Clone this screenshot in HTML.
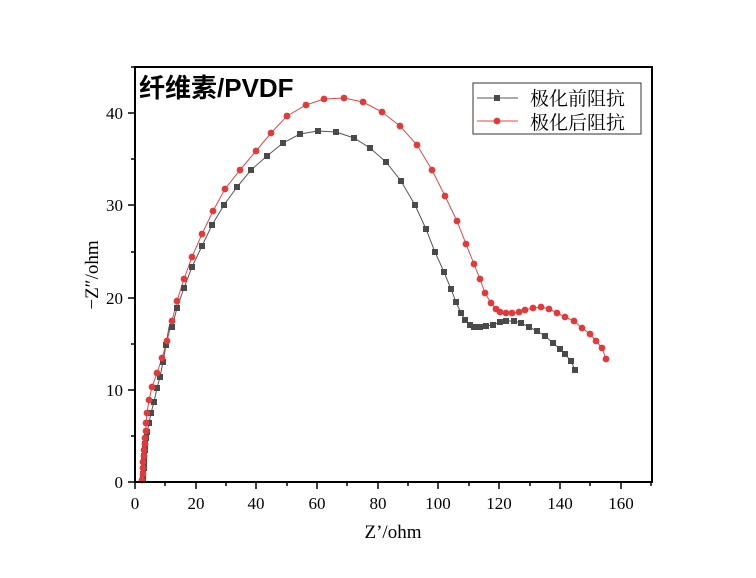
<!DOCTYPE html>
<html><head><meta charset="utf-8"><style>
html,body{margin:0;padding:0;background:#fff;}
svg{display:block;}
</style></head><body>
<svg width="756" height="578" viewBox="0 0 756 578" xmlns="http://www.w3.org/2000/svg">
<rect width="756" height="578" fill="#fff"/>
<defs>
<rect id="sq" x="-3" y="-3" width="6" height="6" fill="#4a4a4a"/>
<circle id="ci" r="3.4" fill="#e23a3a"/>
</defs>
<polyline fill="none" stroke="#555" stroke-width="1" points="143,482 143,476 144,470 144,464 144,458 145,452 145,446 146,440 147,434 148,428 149,423 151,413 154,402 157,388 160,377 163,362 166,345 169,327 172,327 177,308 184,288 192,267 202,246 212,225 224,205 237,187 251,170 267,156 283,143 300,134 318,131 336,132 354,138 370,148 386,162 401,181 415,205 426,229 435,252 444,272 451,289 456,302 461,313 465,320 470,325 474,327 480,327 486,326 493,325 500,322 506,321 514,321 521,323 529,327 537,331 545,336 553,343 560,349 565,354 571,361 575,370"/>
<polyline fill="none" stroke="#e04848" stroke-width="1" points="142,482 142,477 143,472 143,467 143,462 144,456 144,450 145,444 145,438 146,430 146,423 147,413 149,400 152,387 157,373 162,358 167,341 172,321 177,301 184,279 192,257 202,234 213,211 225,189 240,170 256,151 271,133 287,116 306,105 324,99 344,98 363,102 382,112 400,126 417,145 432,170 445,196 457,221 466,244 474,264 480,279 485,293 491,303 496,309 500,312 506,313 512,313 519,312 525,310 533,308 541,307 549,309 557,313 565,317 574,321 582,328 590,334 596,341 602,348 606,359"/>
<g>
<use href="#sq" x="143" y="480"/><use href="#sq" x="143" y="474"/><use href="#sq" x="144" y="468"/><use href="#sq" x="144" y="462"/><use href="#sq" x="144" y="456"/><use href="#sq" x="145" y="450"/><use href="#sq" x="145" y="444"/><use href="#sq" x="146" y="438"/><use href="#sq" x="147" y="432"/><use href="#sq" x="149" y="423"/><use href="#sq" x="151" y="413"/><use href="#sq" x="154" y="402"/><use href="#sq" x="157" y="388"/><use href="#sq" x="160" y="377"/><use href="#sq" x="163" y="362"/><use href="#sq" x="166" y="345"/><use href="#sq" x="172" y="327"/><use href="#sq" x="177" y="308"/><use href="#sq" x="184" y="288"/><use href="#sq" x="192" y="267"/><use href="#sq" x="202" y="246"/><use href="#sq" x="212" y="225"/><use href="#sq" x="224" y="205"/><use href="#sq" x="237" y="187"/><use href="#sq" x="251" y="170"/><use href="#sq" x="267" y="156"/><use href="#sq" x="283" y="143"/><use href="#sq" x="300" y="134"/><use href="#sq" x="318" y="131"/><use href="#sq" x="336" y="132"/><use href="#sq" x="354" y="138"/><use href="#sq" x="370" y="148"/><use href="#sq" x="386" y="162"/><use href="#sq" x="401" y="181"/><use href="#sq" x="415" y="205"/><use href="#sq" x="426" y="229"/><use href="#sq" x="435" y="252"/><use href="#sq" x="444" y="272"/><use href="#sq" x="451" y="289"/><use href="#sq" x="456" y="302"/><use href="#sq" x="461" y="313"/><use href="#sq" x="465" y="320"/><use href="#sq" x="470" y="325"/><use href="#sq" x="474" y="327"/><use href="#sq" x="480" y="327"/><use href="#sq" x="486" y="326"/><use href="#sq" x="493" y="325"/><use href="#sq" x="500" y="322"/><use href="#sq" x="506" y="321"/><use href="#sq" x="514" y="321"/><use href="#sq" x="521" y="323"/><use href="#sq" x="529" y="327"/><use href="#sq" x="537" y="331"/><use href="#sq" x="545" y="336"/><use href="#sq" x="553" y="343"/><use href="#sq" x="560" y="349"/><use href="#sq" x="565" y="354"/><use href="#sq" x="571" y="361"/><use href="#sq" x="575" y="370"/>
</g>
<g>
<use href="#ci" x="142" y="480"/><use href="#ci" x="143" y="474"/><use href="#ci" x="143" y="468"/><use href="#ci" x="143" y="462"/><use href="#ci" x="144" y="456"/><use href="#ci" x="144" y="450"/><use href="#ci" x="145" y="444"/><use href="#ci" x="145" y="438"/><use href="#ci" x="146" y="431"/><use href="#ci" x="146" y="423"/><use href="#ci" x="147" y="413"/><use href="#ci" x="149" y="400"/><use href="#ci" x="152" y="387"/><use href="#ci" x="157" y="373"/><use href="#ci" x="162" y="358"/><use href="#ci" x="167" y="341"/><use href="#ci" x="172" y="321"/><use href="#ci" x="177" y="301"/><use href="#ci" x="184" y="279"/><use href="#ci" x="192" y="257"/><use href="#ci" x="202" y="234"/><use href="#ci" x="213" y="211"/><use href="#ci" x="225" y="189"/><use href="#ci" x="240" y="170"/><use href="#ci" x="256" y="151"/><use href="#ci" x="271" y="133"/><use href="#ci" x="287" y="116"/><use href="#ci" x="306" y="105"/><use href="#ci" x="324" y="99"/><use href="#ci" x="344" y="98"/><use href="#ci" x="363" y="102"/><use href="#ci" x="382" y="112"/><use href="#ci" x="400" y="126"/><use href="#ci" x="417" y="145"/><use href="#ci" x="432" y="170"/><use href="#ci" x="445" y="196"/><use href="#ci" x="457" y="221"/><use href="#ci" x="466" y="244"/><use href="#ci" x="474" y="264"/><use href="#ci" x="480" y="279"/><use href="#ci" x="485" y="293"/><use href="#ci" x="491" y="303"/><use href="#ci" x="496" y="309"/><use href="#ci" x="500" y="312"/><use href="#ci" x="506" y="313"/><use href="#ci" x="512" y="313"/><use href="#ci" x="519" y="312"/><use href="#ci" x="525" y="310"/><use href="#ci" x="533" y="308"/><use href="#ci" x="541" y="307"/><use href="#ci" x="549" y="309"/><use href="#ci" x="557" y="313"/><use href="#ci" x="565" y="317"/><use href="#ci" x="574" y="321"/><use href="#ci" x="582" y="328"/><use href="#ci" x="590" y="334"/><use href="#ci" x="596" y="341"/><use href="#ci" x="602" y="348"/><use href="#ci" x="606" y="359"/>
</g>
<rect x="135" y="67" width="517" height="415" fill="none" stroke="#000" stroke-width="2"/>
<g stroke="#000" stroke-width="1.5">
<line x1="135" y1="482" x2="135" y2="489"/><line x1="196" y1="482" x2="196" y2="489"/><line x1="256" y1="482" x2="256" y2="489"/><line x1="317" y1="482" x2="317" y2="489"/><line x1="378" y1="482" x2="378" y2="489"/><line x1="438" y1="482" x2="438" y2="489"/><line x1="499" y1="482" x2="499" y2="489"/><line x1="560" y1="482" x2="560" y2="489"/><line x1="621" y1="482" x2="621" y2="489"/>
<line x1="165" y1="482" x2="165" y2="486"/><line x1="226" y1="482" x2="226" y2="486"/><line x1="287" y1="482" x2="287" y2="486"/><line x1="347" y1="482" x2="347" y2="486"/><line x1="408" y1="482" x2="408" y2="486"/><line x1="469" y1="482" x2="469" y2="486"/><line x1="530" y1="482" x2="530" y2="486"/><line x1="590" y1="482" x2="590" y2="486"/><line x1="651" y1="482" x2="651" y2="486"/>
<line x1="135" y1="482" x2="128" y2="482"/><line x1="135" y1="390" x2="128" y2="390"/><line x1="135" y1="298" x2="128" y2="298"/><line x1="135" y1="205" x2="128" y2="205"/><line x1="135" y1="113" x2="128" y2="113"/>
<line x1="135" y1="436" x2="131" y2="436"/><line x1="135" y1="344" x2="131" y2="344"/><line x1="135" y1="252" x2="131" y2="252"/><line x1="135" y1="159" x2="131" y2="159"/><line x1="135" y1="67" x2="131" y2="67"/>
</g>
<g font-family="Liberation Serif, serif" font-size="17" fill="#000" text-anchor="middle">
<text x="135" y="509">0</text><text x="196" y="509">20</text><text x="256" y="509">40</text><text x="317" y="509">60</text><text x="378" y="509">80</text><text x="438" y="509">100</text><text x="499" y="509">120</text><text x="560" y="509">140</text><text x="621" y="509">160</text>
</g>
<g font-family="Liberation Serif, serif" font-size="17" fill="#000" text-anchor="end">
<text x="123" y="488">0</text><text x="123" y="396">10</text><text x="123" y="304">20</text><text x="123" y="211">30</text><text x="123" y="119">40</text>
</g>
<text x="393" y="538" font-family="Liberation Serif, serif" font-size="19" text-anchor="middle">Z’/ohm</text>
<text transform="translate(98,275) rotate(-90)" font-family="Liberation Serif, serif" font-size="19" text-anchor="middle">−Z″/ohm</text>
<text x="139" y="97" font-family="Liberation Sans, 'Noto Sans CJK SC', sans-serif" font-size="26" font-weight="bold">纤维素/PVDF</text>
<rect x="473" y="83" width="168" height="51" fill="#fff" stroke="#333" stroke-width="1"/>
<line x1="477" y1="98" x2="518" y2="98" stroke="#555"/><use href="#sq" x="497" y="98"/>
<line x1="477" y1="121" x2="518" y2="121" stroke="#e04848"/><use href="#ci" x="497" y="121"/>
<g font-family="'Noto Serif CJK SC', 'Noto Sans CJK SC', serif" font-size="19" fill="#000">
<text x="530" y="105">极化前阻抗</text><text x="530" y="129">极化后阻抗</text>
</g>
</svg>
</body></html>
